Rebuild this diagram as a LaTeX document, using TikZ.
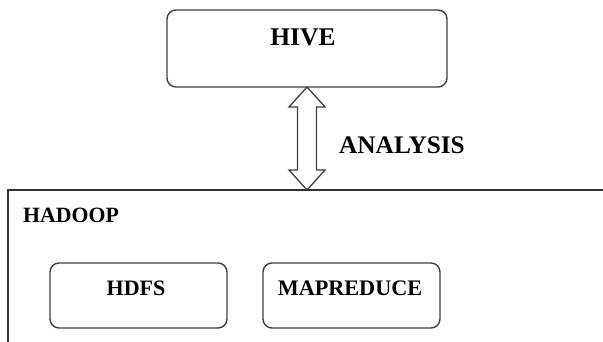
\documentclass[tikz,border=0pt]{standalone}
\usepackage{fontspec}
\setmainfont{Liberation Serif}
\usetikzlibrary{shapes.arrows}
\begin{document}
\begin{tikzpicture}[x=1pt,y=-1pt,
  rbox/.style={draw=black!75, line width=1.4pt, rounded corners=9pt},
  lbl/.style={font=\bfseries, inner sep=0pt, text=black}]
\useasboundingbox (0,0) rectangle (603,342);
\fill[white] (0,0) rectangle (603,342);
% HIVE box
\draw[rbox] (167,10) rectangle (447,87);
\node[lbl, font=\fontsize{25.5}{25.5}\selectfont\bfseries] (hive) at (303,37) {HIVE};
\coordinate (hivebot) at (307,87);
\coordinate (hadtop) at (307,190);
% double arrow
\draw[black!75, line width=1.3pt, fill=white, line join=miter]
  (hivebot) -- (325,107) -- (316.5,107) -- (316.5,170) -- (325,170) -- (hadtop)
  -- (289,170) -- (297.5,170) -- (297.5,107) -- (289,107) -- cycle;
\node[lbl, font=\fontsize{25.3}{25.3}\selectfont\bfseries, anchor=west] (analysis) at (339,145) {ANALYSIS};
% HADOOP frame
\draw[black!80, line width=1.4pt] (8,342) -- (8,190) -- (603,190);
\node[lbl, font=\fontsize{21.8}{21.8}\selectfont\bfseries, anchor=west] (hadoop) at (23,215) {HADOOP};
% HDFS and MAPREDUCE
\draw[rbox] (50,263) rectangle (227,328);
\node[lbl, font=\fontsize{22}{22}\selectfont\bfseries] (hdfs) at (136,288) {HDFS};
\draw[rbox] (263,263) rectangle (440,328);
\node[lbl, font=\fontsize{22.2}{22.2}\selectfont\bfseries] (mapreduce) at (350,288) {MAPREDUCE};
\end{tikzpicture}
\end{document}
